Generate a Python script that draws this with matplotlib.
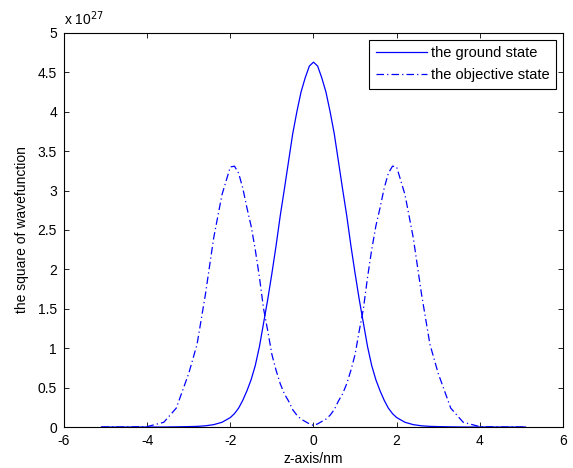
import matplotlib
matplotlib.use("Agg")
import matplotlib.pyplot as plt

# values (y in units of 1e27)
z_nm = [-5.1, -4.5, -4.0, -3.6, -3.3, -3.0, -2.8, -2.6, -2.4, -2.2, -2.0, -1.9,
        -1.8, -1.7, -1.6, -1.5, -1.4, -1.3, -1.2, -1.1, -1.0, -0.9, -0.8, -0.7,
        -0.6, -0.5, -0.4, -0.3, -0.2, -0.1, 0.0, 0.1, 0.2, 0.3, 0.4, 0.5, 0.6,
        0.7, 0.8, 0.9, 1.0, 1.1, 1.2, 1.3, 1.4, 1.5, 1.6, 1.7, 1.8, 1.9, 2.0,
        2.2, 2.4, 2.6, 2.8, 3.0, 3.3, 3.6, 4.0, 4.5, 5.1]

ground_state = [0.0, 0.0, 0.0, 0.0, 0.002, 0.005, 0.008, 0.015, 0.03, 0.06, 0.12,
                0.17, 0.24, 0.34, 0.46, 0.6, 0.78, 1.02, 1.32, 1.62, 1.95, 2.3,
                2.68, 3.02, 3.37, 3.72, 4.0, 4.25, 4.43, 4.58, 4.63, 4.58, 4.43,
                4.25, 4.0, 3.72, 3.37, 3.02, 2.68, 2.3, 1.95, 1.62, 1.32, 1.02,
                0.78, 0.6, 0.46, 0.34, 0.24, 0.17, 0.12, 0.06, 0.03, 0.015, 0.008,
                0.005, 0.002, 0.0, 0.0, 0.0, 0.0]

objective_state = [0.0, 0.0, 0.005, 0.06, 0.24, 0.68, 1.05, 1.68, 2.4, 2.95, 3.3,
                   3.31, 3.22, 3.03, 2.78, 2.55, 2.25, 1.9, 1.5, 1.22, 0.92, 0.72,
                   0.55, 0.42, 0.33, 0.22, 0.15, 0.1, 0.07, 0.04, 0.02, 0.04, 0.07,
                   0.1, 0.15, 0.22, 0.33, 0.42, 0.55, 0.72, 0.92, 1.22, 1.5, 1.9,
                   2.25, 2.55, 2.78, 3.03, 3.22, 3.31, 3.3, 2.95, 2.4, 1.68, 1.05,
                   0.68, 0.24, 0.06, 0.005, 0.0, 0.0]

x_ticks = [-6, -4, -2, 0, 2, 4, 6]
y_ticks = [0, 0.5, 1, 1.5, 2, 2.5, 3, 3.5, 4, 4.5, 5]
y_tick_labels = ["0", "0.5", "1", "1.5", "2", "2.5", "3", "3.5", "4", "4.5", "5"]

plt.rcParams["font.family"] = ["Liberation Sans", "DejaVu Sans"]
plt.rcParams["font.size"] = 10
plt.rcParams["axes.unicode_minus"] = False

fig = plt.figure(figsize=(5.73, 4.68), dpi=100)
ax = fig.add_axes([0.1117, 0.0876, 0.8708, 0.8419])

ax.plot(z_nm, ground_state, color="#0000ff", lw=0.9, label="the ground state")
ax.plot(z_nm, objective_state, color="#0000ff", lw=0.9,
        dashes=(6, 2.5, 1, 2.5), label="the objective state")

ax.set_xlim(-6, 6)
ax.set_ylim(0, 5)
ax.set_xticks(x_ticks)
ax.set_yticks(y_ticks)
ax.set_yticklabels(y_tick_labels)
ax.tick_params(direction="in", length=3.5, width=0.6, top=True, right=True,
               labelsize=10, pad=5)
for s in ax.spines.values():
    s.set_linewidth(0.8)

ax.set_xlabel("z-axis/nm", labelpad=3)
ax.set_ylabel("the square of wavefunction", labelpad=6)
ax.text(0.0, 1.012, r"x 10$^{27}$", transform=ax.transAxes, ha="left",
        va="bottom", fontsize=10)

leg = ax.legend(loc="upper right", fancybox=False, edgecolor="black",
                framealpha=1, handlelength=3.5, borderaxespad=0.45,
                borderpad=0.45, labelspacing=0.55, handletextpad=0.3,
                fontsize=10.5)
leg.get_frame().set_linewidth(0.8)

fig.savefig("out.png", dpi=100)
